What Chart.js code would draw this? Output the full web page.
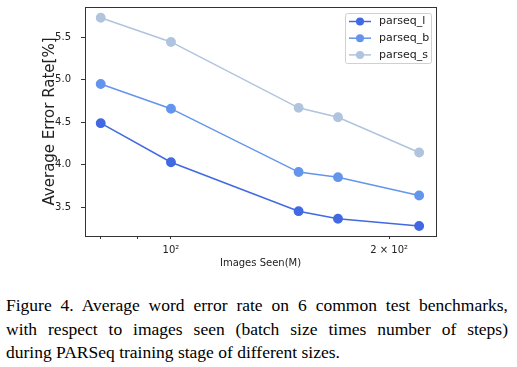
<!DOCTYPE html>
<html>
<head>
<meta charset="utf-8">
<script src="https://cdn.jsdelivr.net/npm/chart.js@4/dist/chart.umd.min.js"></script>
<style>
  html, body { margin: 0; padding: 0; background: #fff; }
  #wrap { position: absolute; left: 0; top: 0; width: 517px; height: 275px; }
  #caption {
    position: absolute; left: 6px; top: 294px; width: 502px;
    font-family: "Liberation Serif", serif; font-size: 17.5px; line-height: 23.5px;
    color: #000;
  }
  #caption .j { text-align: justify; text-align-last: justify; white-space: nowrap; }
</style>
</head>
<body>
<div id="wrap"><canvas id="chart" width="517" height="275"></canvas></div>
<div id="caption">
  <div class="j">Figure 4. Average word error rate on 6 common test benchmarks,</div>
  <div class="j">with respect to images seen (batch size times number of steps)</div>
  <div>during PARSeq training stage of different sizes.</div>
</div>
<script>
var imagesSeen = [80, 100, 150, 170, 220];
var parseqL = [4.49, 4.03, 3.455, 3.365, 3.28];
var parseqB = [4.95, 4.66, 3.915, 3.855, 3.64];
var parseqS = [5.73, 5.445, 4.67, 4.56, 4.145];
var xTicks = [80, 90, 100, 200];
var yTicks = [3.5, 4.0, 4.5, 5.0, 5.5];
var yTitle = 'Average Error Rate[%]';

function pts(vals) {
    return imagesSeen.map(function (x, i) { return { x: x, y: vals[i] }; });
}

function series(label, vals, color) {
    return {
        label: label,
        data: pts(vals),
        borderColor: color,
        backgroundColor: color,
        pointBackgroundColor: color,
        pointBorderColor: color,
        pointRadius: 4.2,
        pointHoverRadius: 4.2,
        borderWidth: 1.5,
        tension: 0
    };
}

// box around the plot, y title, and matplotlib style legend in the top right
var framePlugin = {
    id: 'frame',
    afterDraw: function (chart) {
        var ctx = chart.ctx, a = chart.chartArea;
        ctx.save();
        ctx.strokeStyle = '#333';
        ctx.lineWidth = 1;
        ctx.strokeRect(a.left + 0.5, a.top + 0.5, a.right - a.left, a.bottom - a.top);

        ctx.save();
        ctx.translate(50, (a.top + a.bottom) / 2);
        ctx.rotate(-Math.PI / 2);
        ctx.font = '15px "DejaVu Sans"';
        ctx.fillStyle = '#222';
        ctx.textAlign = 'center';
        ctx.textBaseline = 'middle';
        ctx.fillText(yTitle, 0, 0);
        ctx.restore();

        var sets = chart.data.datasets;
        var bx = 345, by = 13, bw = 86, bh = 50;
        ctx.fillStyle = 'rgba(255,255,255,0.8)';
        ctx.strokeStyle = '#d0d0d0';
        ctx.beginPath();
        ctx.roundRect(bx + 0.5, by + 0.5, bw, bh, 2);
        ctx.fill();
        ctx.stroke();
        ctx.font = '11px "DejaVu Sans"';
        ctx.textBaseline = 'middle';
        ctx.textAlign = 'left';
        sets.forEach(function (d, i) {
            var y = by + 8.5 + i * 16.7;
            ctx.strokeStyle = d.borderColor;
            ctx.lineWidth = 1.5;
            ctx.beginPath();
            ctx.moveTo(bx + 4, y);
            ctx.lineTo(bx + 26, y);
            ctx.stroke();
            ctx.fillStyle = d.borderColor;
            ctx.beginPath();
            ctx.arc(bx + 15, y, 4, 0, Math.PI * 2);
            ctx.fill();
            ctx.fillStyle = '#222';
            ctx.fillText(d.label, bx + 34, y);
        });
        ctx.restore();
    }
};

var ctx = document.getElementById('chart').getContext('2d');
var chart = new Chart(ctx, {
    type: 'line',
    data: {
        datasets: [
            series('parseq_l', parseqL, '#4169e1'),
            series('parseq_b', parseqB, '#6495ed'),
            series('parseq_s', parseqS, '#b0c4de')
        ]
    },
    options: {
        responsive: false,
        animation: false,
        layout: { padding: { left: 0, right: 81, top: 7, bottom: 0 } },
        plugins: {
            legend: { display: false },
            tooltip: { enabled: false }
        },
        scales: {
            x: {
                type: 'logarithmic',
                min: 76.1,
                max: 232.1,
                afterBuildTicks: function (s) {
                    s.ticks = xTicks.map(function (v) { return { value: v }; });
                },
                afterFit: function (s) {
                    s.height = 39;
                    s.paddingLeft = 0;
                    s.paddingRight = 0;
                },
                ticks: {
                    autoSkip: false,
                    maxRotation: 0,
                    color: '#222',
                    font: { family: 'DejaVu Sans', size: 10 },
                    padding: 5,
                    callback: function (v) {
                        if (v === 100) return '10²';
                        if (v === 200) return '2 × 10²';
                        return '';
                    }
                },
                grid: { drawOnChartArea: false, drawTicks: true, tickLength: 3, color: '#333' },
                border: { display: true, color: '#333' },
                title: {
                    display: true,
                    text: 'Images Seen(M)',
                    color: '#222',
                    font: { family: 'DejaVu Sans', size: 10 },
                    padding: { top: 0, bottom: 6 }
                }
            },
            y: {
                min: 3.163,
                max: 5.856,
                afterBuildTicks: function (s) {
                    s.ticks = yTicks.map(function (v) { return { value: v }; });
                },
                afterFit: function (s) {
                    s.width = 85;
                    s.paddingTop = 0;
                    s.paddingBottom = 0;
                },
                ticks: {
                    color: '#222',
                    font: { family: 'DejaVu Sans', size: 10 },
                    padding: 10,
                    callback: function (v) { return v.toFixed(1); }
                },
                grid: { drawOnChartArea: false, drawTicks: true, tickLength: 4, color: '#333' },
                border: { display: true, color: '#333' }
            }
        }
    },
    plugins: [framePlugin]
});
</script>
</body>
</html>
